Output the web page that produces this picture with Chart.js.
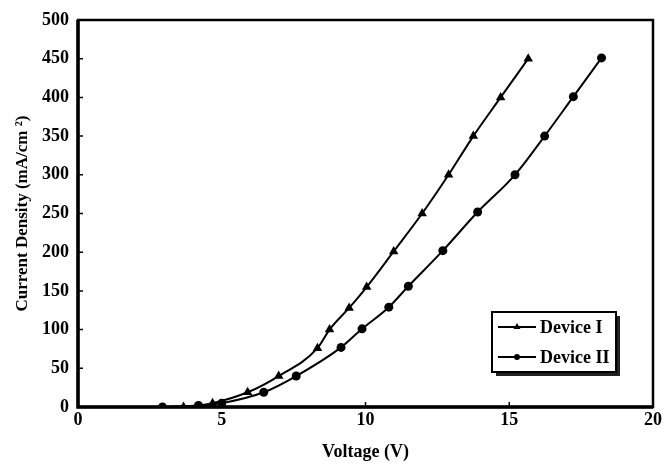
<!DOCTYPE html>
<html lang="en">
<head>
<meta charset="UTF-8">
<title>Current density vs voltage</title>
<script src="https://cdn.jsdelivr.net/npm/chart.js@4/dist/chart.umd.min.js"></script>
<style>
  html, body { margin: 0; padding: 0; background: #fff; }
</style>
</head>
<body>
<canvas id="chart" width="665" height="464"></canvas>
<script>
// values
const device1Voltage = [3.67, 4.68, 5.9, 6.98, 8.33, 8.75, 9.43, 10.04, 10.98, 11.97, 12.89, 13.75, 14.7, 15.66];
const device1Current = [0, 5, 19, 40, 76, 100, 128, 155, 201, 250, 300, 350, 400, 450];
const device2Voltage = [2.94, 4.19, 5.0, 6.46, 7.59, 9.15, 9.88, 10.81, 11.49, 12.69, 13.9, 15.2, 16.23, 17.23, 18.21];
const device2Current = [0, 2, 5, 19, 40, 77, 101, 129, 156, 202, 252, 300, 350, 401, 451];
const seriesLabels = ['Device I', 'Device II'];
const xTitle = 'Voltage (V)';
const yTitle = 'Current Density (mA/cm \u00B2)';

const serif = "'Liberation Serif', 'Times New Roman', serif";
const toPoints = (xs, ys) => xs.map((x, i) => ({ x, y: ys[i] }));

// box around the plot plus inward tick marks
const framePlugin = {
    id: 'frame',
    afterDatasetsDraw(chart) {
        const { ctx, chartArea: a, scales } = chart;
        ctx.save();
        ctx.strokeStyle = '#000';
        ctx.lineWidth = 1.5;
        ctx.beginPath();
        scales.x.ticks.forEach((t, i) => {
            const px = scales.x.getPixelForTick(i);
            ctx.moveTo(px, a.bottom); ctx.lineTo(px, a.bottom - 5);
        });
        scales.y.ticks.forEach((t, i) => {
            const py = scales.y.getPixelForTick(i);
            ctx.moveTo(a.left, py); ctx.lineTo(a.left + 5, py);
        });
        ctx.stroke();
        ctx.lineWidth = 2.5;
        ctx.strokeRect(a.left, a.top, a.right - a.left, a.bottom - a.top);
        // heavier left and bottom axes
        ctx.lineWidth = 3.5;
        ctx.beginPath();
        ctx.moveTo(a.left, a.top); ctx.lineTo(a.left, a.bottom); ctx.lineTo(a.right, a.bottom);
        ctx.stroke();
        ctx.restore();
    }
};

// legend box with drop shadow, inside the plot
const legendPlugin = {
    id: 'boxLegend',
    afterDraw(chart) {
        const { ctx } = chart;
        const x = 492, y = 312, w = 124, h = 60;
        ctx.save();
        ctx.fillStyle = '#222';
        ctx.fillRect(x + 4, y + 4, w, h);
        ctx.fillStyle = '#fff';
        ctx.fillRect(x, y, w, h);
        ctx.strokeStyle = '#000';
        ctx.lineWidth = 2;
        ctx.strokeRect(x, y, w, h);
        chart.data.datasets.forEach((ds, i) => {
            const cy = y + 15 + i * 30;
            ctx.lineWidth = 1.8;
            ctx.beginPath();
            ctx.moveTo(x + 6, cy); ctx.lineTo(x + 44, cy);
            ctx.stroke();
            ctx.fillStyle = '#000';
            Chart.helpers.drawPoint(ctx, { pointStyle: ds.pointStyle, radius: ds.pointRadius - 1.5, borderWidth: 0 }, x + 25, cy);
            ctx.fillStyle = '#000';
            ctx.font = 'bold 18px ' + serif;
            ctx.textBaseline = 'middle';
            ctx.fillText(ds.label, x + 48, cy + 1);
        });
        ctx.restore();
    }
};

const ctx = document.getElementById('chart').getContext('2d');
new Chart(ctx, {
    type: 'line',
    data: {
        datasets: [
            {
                label: seriesLabels[0],
                data: toPoints(device1Voltage, device1Current),
                borderColor: '#000',
                backgroundColor: '#000',
                borderWidth: 2,
                pointStyle: 'triangle',
                pointRadius: 5.5,
                pointBorderWidth: 0,
                cubicInterpolationMode: 'monotone'
            },
            {
                label: seriesLabels[1],
                data: toPoints(device2Voltage, device2Current),
                borderColor: '#000',
                backgroundColor: '#000',
                borderWidth: 2,
                pointStyle: 'circle',
                pointRadius: 4.5,
                pointBorderWidth: 0,
                cubicInterpolationMode: 'monotone'
            }
        ]
    },
    options: {
        responsive: false,
        devicePixelRatio: 1,
        animation: false,
        layout: { padding: { top: 20, right: 10, left: 0, bottom: 0 } },
        plugins: {
            legend: { display: false },
            tooltip: { enabled: false }
        },
        scales: {
            x: {
                type: 'linear',
                min: 0,
                max: 20,
                ticks: { stepSize: 5, color: '#000', padding: 3, maxRotation: 0, font: { family: serif, size: 18, weight: 'bold' } },
                grid: { display: false, drawTicks: false },
                border: { display: false },
                title: { display: true, text: xTitle, color: '#000', padding: { top: 0, bottom: 1 }, font: { family: serif, size: 18, weight: 'bold' } },
                afterFit(scale) { scale.height = 57; }
            },
            y: {
                min: 0,
                max: 500,
                ticks: { stepSize: 50, color: '#000', padding: 9, font: { family: serif, size: 18, weight: 'bold' } },
                grid: { display: false, drawTicks: false },
                border: { display: false },
                title: { display: true, text: yTitle, color: '#000', padding: { top: 12, bottom: 0 }, font: { family: serif, size: 17, weight: 'bold' } },
                afterFit(scale) { scale.width = 78; }
            }
        }
    },
    plugins: [framePlugin, legendPlugin]
});
</script>
</body>
</html>
